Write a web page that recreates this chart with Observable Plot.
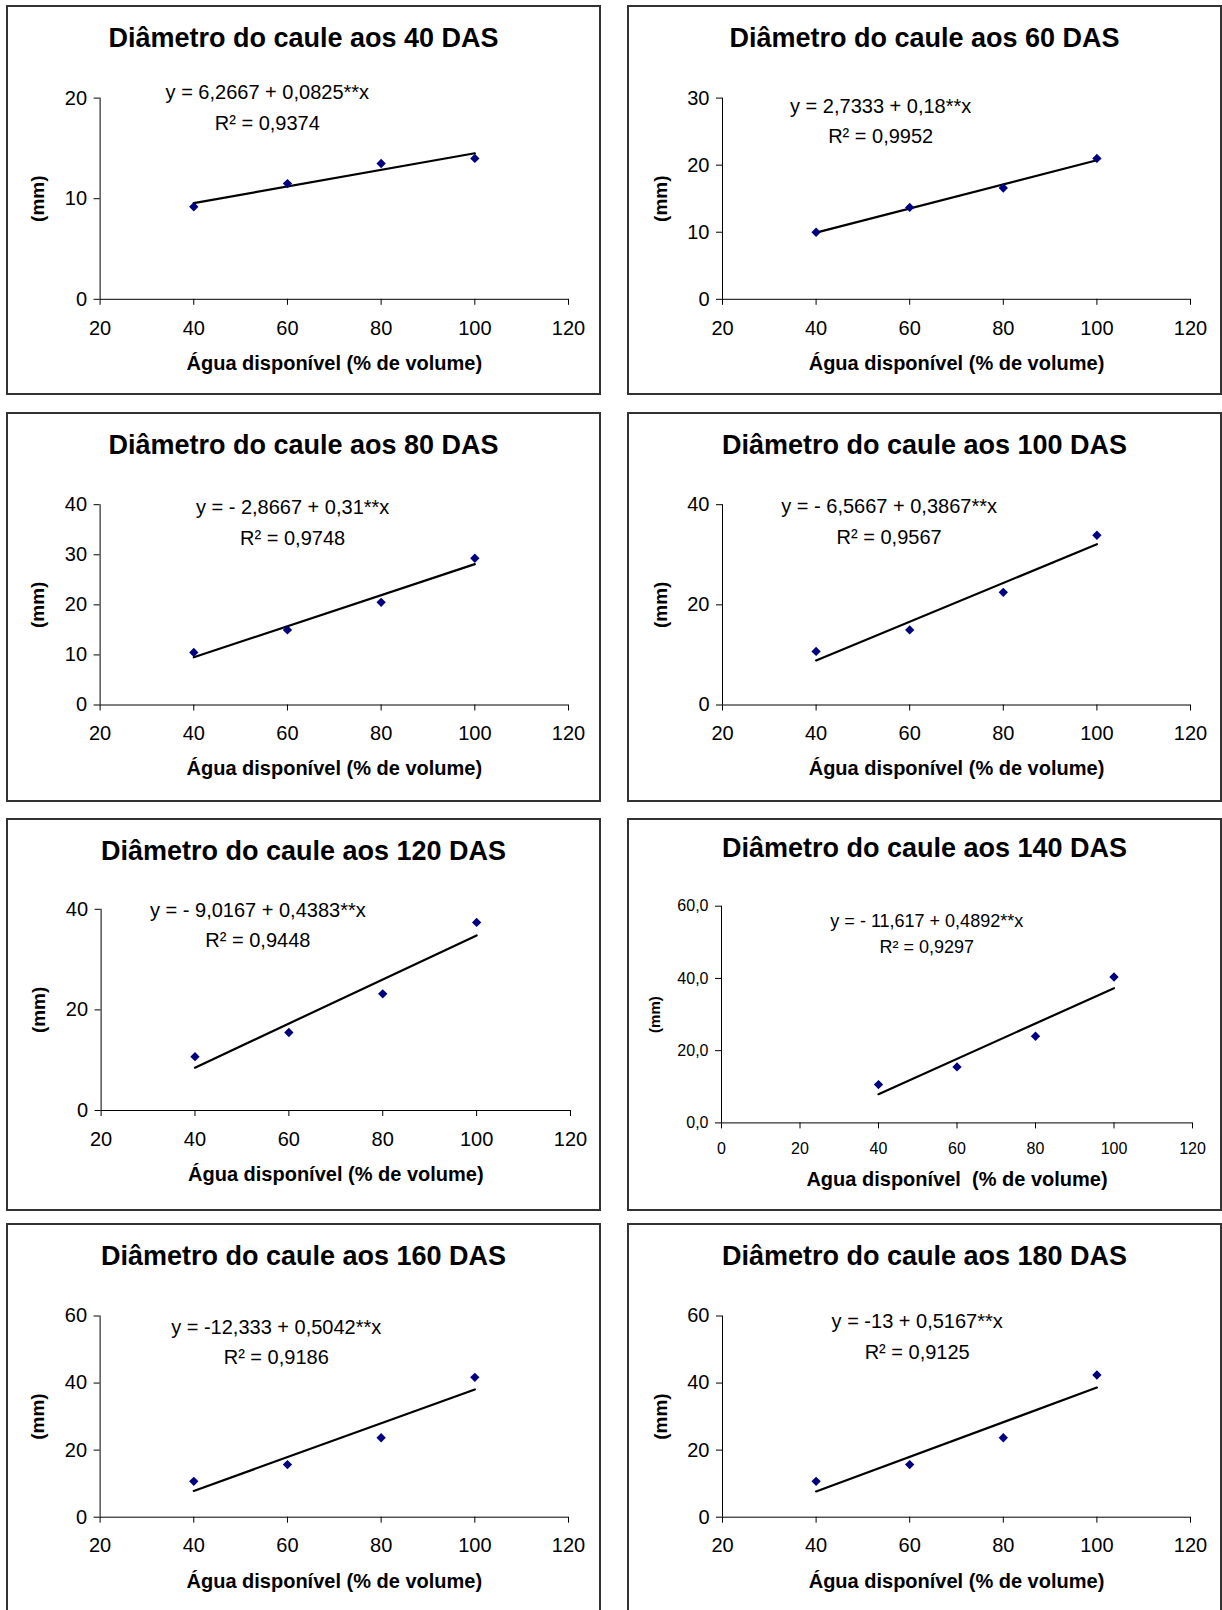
<!DOCTYPE html>
<html>
<head>
<meta charset="utf-8">
<script src="https://cdn.jsdelivr.net/npm/d3@7"></script>
<script src="https://cdn.jsdelivr.net/npm/@observablehq/plot@0.6"></script>
<style>
  html, body { margin: 0; padding: 0; background: #fff; overflow: hidden; }
  #page { position: relative; width: 1222px; height: 1610px; overflow: hidden;
          font-family: "Liberation Sans", Arial, sans-serif; }
  .panel { position: absolute; box-sizing: border-box; border: 2px solid #333; background: #fff; }
  .panel h2 { position: absolute; left: 0; right: 0; top: 0; margin: 0; text-align: center;
              font-size: 27px; font-weight: bold; line-height: 62px; color: #000; }
  .panel svg { position: absolute; left: 0; top: 58px; }
</style>
</head>
<body>
<div id="page"></div>
<script>
// Water availability levels (% of volume)
const aguaDisponivel = [40, 60, 80, 100];

// Days after sowing for each panel
const das = [40, 60, 80, 100, 120, 140, 160, 180];

// Stem diameter (mm) at each water level, one array per sampling date
const diametro40  = [9.2, 11.5, 13.5, 14.0];
const diametro60  = [10.0, 13.7, 16.6, 21.0];
const diametro80  = [10.5, 15.0, 20.5, 29.3];
const diametro100 = [10.7, 15.0, 22.5, 33.9];
const diametro120 = [10.7, 15.5, 23.2, 37.4];
const diametro140 = [10.6, 15.5, 24.0, 40.4];
const diametro160 = [10.7, 15.7, 23.7, 41.7];
const diametro180 = [10.7, 15.7, 23.7, 42.4];

// Fitted linear regressions y = a + b x
const intercepto  = [6.2667, 2.7333, -2.8667, -6.5667, -9.0167, -11.617, -12.333, -13];
const inclinacao  = [0.0825, 0.18, 0.31, 0.3867, 0.4383, 0.4892, 0.5042, 0.5167];
const equacoes = [
  "y = 6,2667 + 0,0825**x",
  "y = 2,7333 + 0,18**x",
  "y = - 2,8667 + 0,31**x",
  "y = - 6,5667 + 0,3867**x",
  "y = - 9,0167 + 0,4383**x",
  "y = - 11,617 + 0,4892**x",
  "y = -12,333 + 0,5042**x",
  "y = -13 + 0,5167**x"
];
const coefR2 = ["0,9374", "0,9952", "0,9748", "0,9567", "0,9448", "0,9297", "0,9186", "0,9125"];

// Axis ticks
const xTicksPadrao = [20, 40, 60, 80, 100, 120];
const xTicks140 = [0, 20, 40, 60, 80, 100, 120];
const yTicks = [
  [0, 10, 20],
  [0, 10, 20, 30],
  [0, 10, 20, 30, 40],
  [0, 20, 40],
  [0, 20, 40],
  [0, 20, 40, 60],
  [0, 20, 40, 60],
  [0, 20, 40, 60]
];

const series = [diametro40, diametro60, diametro80, diametro100,
                diametro120, diametro140, diametro160, diametro180];

// Panel boxes and plotting frames (page pixels, frame relative to the box)
const layout = [
  {left: 6,   top: 5,    w: 595, h: 390, frame: [93.6, 562, 92.6, 293.8], eq: [55.7, 20.5, 17.45]},
  {left: 627, top: 5,    w: 595, h: 390, frame: [95, 563, 92.6, 293.8],   eq: [53.8, 28.8, 24.2]},
  {left: 6,   top: 412,  w: 595, h: 390, frame: [93.6, 562, 92.2, 292.5], eq: [61.1, 39.4, 33.25]},
  {left: 627, top: 412,  w: 595, h: 390, frame: [95, 563, 92.2, 292.5],   eq: [55.6, 39.6, 33.4]},
  {left: 6,   top: 818,  w: 595, h: 393, frame: [94.6, 564, 90.8, 292],   eq: [53.4, 39.8, 33.7]},
  {left: 627, top: 818,  w: 595, h: 393, frame: [94, 565, 87.7, 304.4],   eq: [52.3, 55.7, 48.6], small: true},
  {left: 6,   top: 1223, w: 595, h: 395, frame: [93.6, 562, 92.5, 293.7], eq: [57.6, 56.6, 47.45]},
  {left: 627, top: 1223, w: 595, h: 395, frame: [95, 563, 92.5, 293.7],   eq: [61.6, 58.2, 49.0]}
];

const page = document.getElementById("page");
const fonte = '"Liberation Sans", Arial, sans-serif';
const TITLE_H = 58;
const B = 2;

das.forEach((dia, i) => {
  const L = layout[i];
  const small = !!L.small;
  const box = document.createElement("div");
  box.className = "panel";
  Object.assign(box.style, {left: L.left + "px", top: L.top + "px", width: L.w + "px", height: L.h + "px"});
  const h2 = document.createElement("h2");
  h2.textContent = `Diâmetro do caule aos ${dia} DAS`;
  if (small) h2.style.lineHeight = "56px";
  box.appendChild(h2);

  const W = L.w - 2 * B;
  const H = L.h - 2 * B - TITLE_H;
  const [fl, fr, ft, fb] = L.frame;
  const marginLeft = fl - B;
  const marginRight = (L.w - B) - fr;
  const marginTop = ft - B - TITLE_H;
  const marginBottom = H - (fb - B - TITLE_H);

  const xTicks = small ? xTicks140 : xTicksPadrao;
  const yt = yTicks[i];
  const pontos = aguaDisponivel.map((x, k) => ({x, y: series[i][k]}));
  const ajuste = [40, 100].map(x => ({x, y: intercepto[i] + inclinacao[i] * x}));
  const fmtY = small ? (d => d.toFixed(1).replace(".", ",")) : (d => String(d));
  const tickFont = small ? 16 : 20;
  const eqFont = small ? 18 : 20;
  const xLabel = small ? "Agua disponível \u00a0(% de volume)" : "Água disponível (% de volume)";

  const chart = Plot.plot({
    width: W,
    height: H,
    marginLeft, marginRight, marginTop, marginBottom,
    x: {domain: [xTicks[0], 120]},
    y: {domain: [0, yt[yt.length - 1]]},
    style: {fontFamily: fonte, color: "#000", background: "transparent", overflow: "visible"},
    marks: [
      Plot.ruleY([0], {stroke: "#000", strokeWidth: 1}),
      Plot.ruleX([xTicks[0]], {stroke: "#000", strokeWidth: 1}),
      Plot.axisX({ticks: xTicks, tickSize: 6, tickPadding: small ? 14 : 15, fontSize: tickFont, label: null,
                  tickFormat: d => String(d)}),
      Plot.axisY({ticks: yt, tickSize: 6, tickPadding: 7, fontSize: tickFont, label: null,
                  tickFormat: fmtY}),
      Plot.line(ajuste, {x: "x", y: "y", stroke: "#000", strokeWidth: 2.2}),
      Plot.dot(pontos, {x: "x", y: "y", symbol: "diamond2", r: 4.2, fill: "#000080", stroke: "none"}),
      Plot.text([equacoes[i]], {x: L.eq[0], y: L.eq[1], text: d => d, fontSize: eqFont, textAnchor: "middle"}),
      Plot.text([`R² = ${coefR2[i]}`], {x: L.eq[0], y: L.eq[2], text: d => d, fontSize: eqFont, textAnchor: "middle"}),
      Plot.text([xLabel], {frameAnchor: "bottom", dy: small ? 57 : 64, lineAnchor: "middle", text: d => d,
                           fontSize: 20, fontWeight: "bold"}),
      Plot.text(["(mm)"], {frameAnchor: "left", dx: small ? -66 : -62, rotate: -90, textAnchor: "middle",
                           lineAnchor: "middle", text: d => d,
                           fontSize: small ? 15 : 19, fontWeight: "bold"})
    ]
  });
  box.appendChild(chart);
  page.appendChild(box);
});
</script>
</body>
</html>
